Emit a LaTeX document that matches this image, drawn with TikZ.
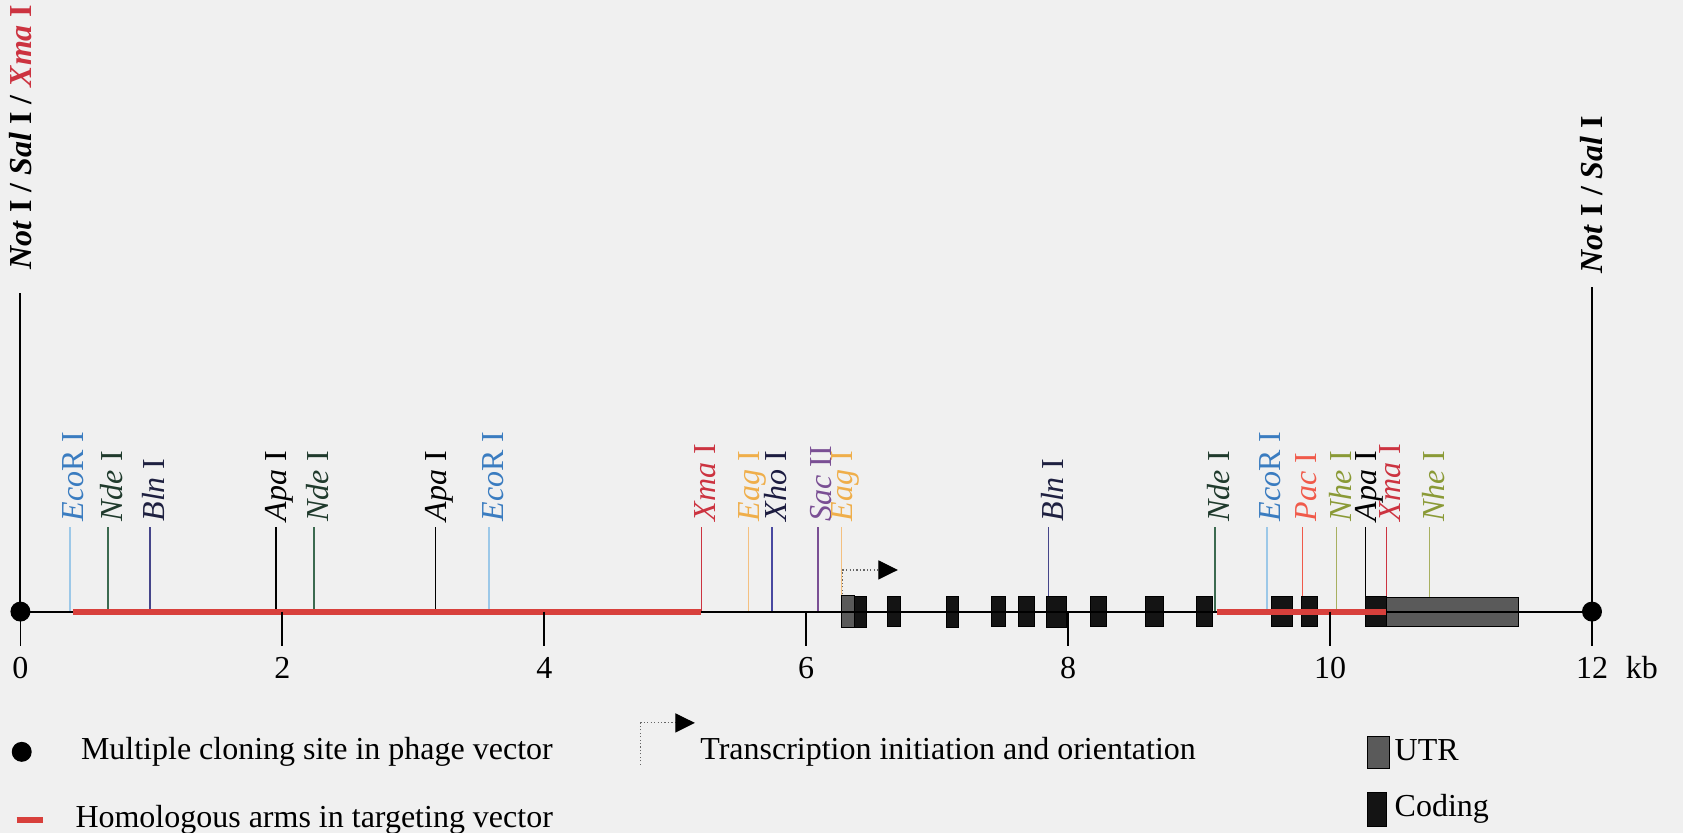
\documentclass[tikz,border=0pt]{standalone}
\usepackage{fontspec}
\setmainfont{Liberation Serif}
\usetikzlibrary{arrows.meta, positioning}
\definecolor{BgGrey}{HTML}{F0F0F0}
\definecolor{ArmRed}{HTML}{D8403C}
\definecolor{UtrGrey}{HTML}{5A5A5A}
\definecolor{EcoText}{HTML}{3A7CC0}
\definecolor{EcoLine}{HTML}{9CC8E8}
\definecolor{NdeText}{HTML}{1F3A2C}
\definecolor{NdeLine}{HTML}{3C6A50}
\definecolor{BlnText}{HTML}{1E2040}
\definecolor{BlnLine}{HTML}{45458A}
\definecolor{XmaRed}{HTML}{CC3340}
\definecolor{EagText}{HTML}{EFAE4A}
\definecolor{EagLine}{HTML}{F4C080}
\definecolor{XhoText}{HTML}{1C1C40}
\definecolor{XhoLine}{HTML}{4848A0}
\definecolor{SacPurple}{HTML}{7A4F94}
\definecolor{PacRed}{HTML}{F05A4A}
\definecolor{NheText}{HTML}{8A9A36}
\definecolor{NheLine}{HTML}{A8B060}
\def\enz#1#2{\textit{#1}#2}

\begin{document}
\begin{tikzpicture}[
    x=2cm, y=2cm,
    font=\fontsize{13.9}{16}\selectfont,
    siteLine/.style={line width=0.7pt},
    siteLabel/.style={rotate=90, anchor=west, inner sep=2pt, yshift=-1.5pt},
    endLine/.style={line width=0.9pt},
    endLabel/.style={rotate=90, anchor=west, font=\fontsize{13.9}{16}\selectfont\bfseries},
    exonBox/.style={fill=black!92, draw=black, line width=0.3pt},
    utrBox/.style={fill=UtrGrey, draw=black, line width=0.4pt},
    armLine/.style={draw=ArmRed, line width=2.6pt},
    mcsDot/.style={circle, fill=black, minimum size=0.305cm, inner sep=0pt},
    tssLine/.style={draw=black!60, densely dotted, line width=0.5pt, -{Triangle[length=8.5pt, width=8.3pt, color=black]}},
    legendText/.style={anchor=west, inner sep=0pt},
  ]
  \path[use as bounding box, fill=BgGrey] (-0.156,-1.689) rectangle (12.695,4.670);
  % restriction sites
  \draw[siteLine, EcoLine] (0.38,0) -- (0.38,0.647) node[siteLabel, EcoText] (ecoA) {\enz{Eco}{R I}};
  \draw[siteLine, NdeLine] (0.67,0) -- (0.67,0.647) node[siteLabel, NdeText] (ndeA) {\enz{Nde}{ I}};
  \draw[siteLine, BlnLine] (0.99,0) -- (0.99,0.647) node[siteLabel, BlnText] (blnA) {\enz{Bln}{ I}};
  \draw[siteLine, black] (1.95,0) -- (1.95,0.647) node[siteLabel] (apaA) {\enz{Apa}{ I}};
  \draw[siteLine, NdeLine] (2.24,0) -- (2.24,0.647) node[siteLabel, NdeText] (ndeB) {\enz{Nde}{ I}};
  \draw[siteLine, black] (3.17,0) -- (3.17,0.647) node[siteLabel] (apaB) {\enz{Apa}{ I}};
  \draw[siteLine, EcoLine] (3.58,0) -- (3.58,0.647) node[siteLabel, EcoText] (ecoB) {\enz{Eco}{R I}};
  \draw[siteLine, XmaRed] (5.20,0) -- (5.20,0.647) node[siteLabel] (xmaA) {\enz{Xma}{ I}};
  \draw[siteLine, EagLine] (5.56,0) -- (5.56,0.647) node[siteLabel, EagText] (eagA) {\enz{Eag}{ I}};
  \draw[siteLine, XhoLine] (5.74,0) -- (5.74,0.647) node[siteLabel, XhoText] (xhoA) {\enz{Xho}{ I}};
  \draw[siteLine, SacPurple] (6.09,0) -- (6.09,0.647) node[siteLabel] (sacA) {\enz{Sac}{ II}};
  \draw[siteLine, EagLine] (6.27,0) -- (6.27,0.647) node[siteLabel, EagText] (eagB) {\enz{Eag}{ I}};
  \draw[siteLine, BlnLine] (7.85,0) -- (7.85,0.647) node[siteLabel, BlnText] (blnB) {\enz{Bln}{ I}};
  \draw[siteLine, NdeLine] (9.12,0) -- (9.12,0.647) node[siteLabel, NdeText] (ndeC) {\enz{Nde}{ I}};
  \draw[siteLine, EcoLine] (9.52,0) -- (9.52,0.647) node[siteLabel, EcoText] (ecoC) {\enz{Eco}{R I}};
  \draw[siteLine, PacRed] (9.79,0) -- (9.79,0.647) node[siteLabel] (pacA) {\enz{Pac}{ I}};
  \draw[siteLine, NheLine] (10.05,0) -- (10.05,0.647) node[siteLabel, NheText] (nheA) {\enz{Nhe}{ I}};
  \draw[siteLine, black] (10.27,0) -- (10.27,0.647) node[siteLabel] (apaC) {\enz{Apa}{ I}};
  \draw[siteLine, XmaRed] (10.43,0) -- (10.43,0.647) node[siteLabel] (xmaB) {\enz{Xma}{ I}};
  \draw[siteLine, NheLine] (10.76,0) -- (10.76,0.647) node[siteLabel, NheText] (nheB) {\enz{Nhe}{ I}};
  % cloning site ends
  \draw[endLine] (0,0) -- (0,2.433) node[endLabel, inner sep=9.8pt] (notL) {\textit{Not} I / \textit{Sal} I / \textcolor{XmaRed}{\textit{Xma} I}};
  \draw[endLine] (12,0) -- (12,2.48) node[endLabel, inner sep=5.5pt] (notR) {\textit{Not} I / \textit{Sal} I};
  % transcription start
  \draw[tssLine] (6.28,0) |- (6.70,0.318);
  % exons
  \draw[utrBox] (6.27,-0.12) rectangle (6.37,0.12);
  \draw[exonBox] (6.37,-0.12) rectangle (6.46,0.12);
  \draw[exonBox] (6.62,-0.115) rectangle (6.72,0.115);
  \draw[exonBox] (7.07,-0.12) rectangle (7.16,0.12);
  \draw[exonBox] (7.41,-0.115) rectangle (7.52,0.115);
  \draw[exonBox] (7.62,-0.115) rectangle (7.74,0.115);
  \draw[exonBox] (7.83,-0.12) rectangle (7.99,0.12);
  \draw[exonBox] (8.17,-0.115) rectangle (8.29,0.115);
  \draw[exonBox] (8.59,-0.115) rectangle (8.73,0.115);
  \draw[exonBox] (8.98,-0.115) rectangle (9.10,0.115);
  \draw[exonBox] (9.55,-0.115) rectangle (9.71,0.115);
  \draw[exonBox] (9.78,-0.115) rectangle (9.90,0.115);
  \draw[exonBox] (10.27,-0.115) rectangle (10.43,0.115);
  \draw[utrBox] (10.43,-0.11) rectangle (11.44,0.11);
  % axis
  \draw[line width=0.9pt] (0,0) -- (12,0);
  \draw[armLine] (0.40,0) -- (5.20,0);
  \draw[armLine] (9.14,0) -- (10.43,0);
  \node[mcsDot] (mcsL) at (0,0) {};
  \node[mcsDot] (mcsR) at (12,0) {};
  \foreach \k in {0,2,...,12} {
    \draw[line width=0.8pt] (\k,0) -- (\k,-0.26);
    \node (num\k) at (\k,-0.43) {\k};
  }
  \node (kbUnit) at (12.38,-0.43) {kb};
  % legend
  \node[mcsDot] (legDot) at (0.01,-1.071) {};
  \node[legendText] (legDotText) at (0.459,-1.071) {Multiple cloning site in phage vector};
  \draw[armLine] (-0.03,-1.59) -- (0.175,-1.59);
  \node[legendText] (legArmText) at (0.417,-1.59) {Homologous arms in targeting vector};
  \draw[tssLine] (4.737,-1.170) |- (5.15,-0.850);
  \node[legendText] (legTssText) at (5.188,-1.071) {Transcription initiation and orientation};
  \draw[utrBox] (10.287,-0.95) rectangle (10.45,-1.20);
  \node[legendText] (legUtrText) at (10.49,-1.06) {UTR};
  \draw[exonBox] (10.287,-1.38) rectangle (10.43,-1.64);
  \node[legendText] (legCodText) at (10.49,-1.51) {Coding};
\end{tikzpicture}
\end{document}
